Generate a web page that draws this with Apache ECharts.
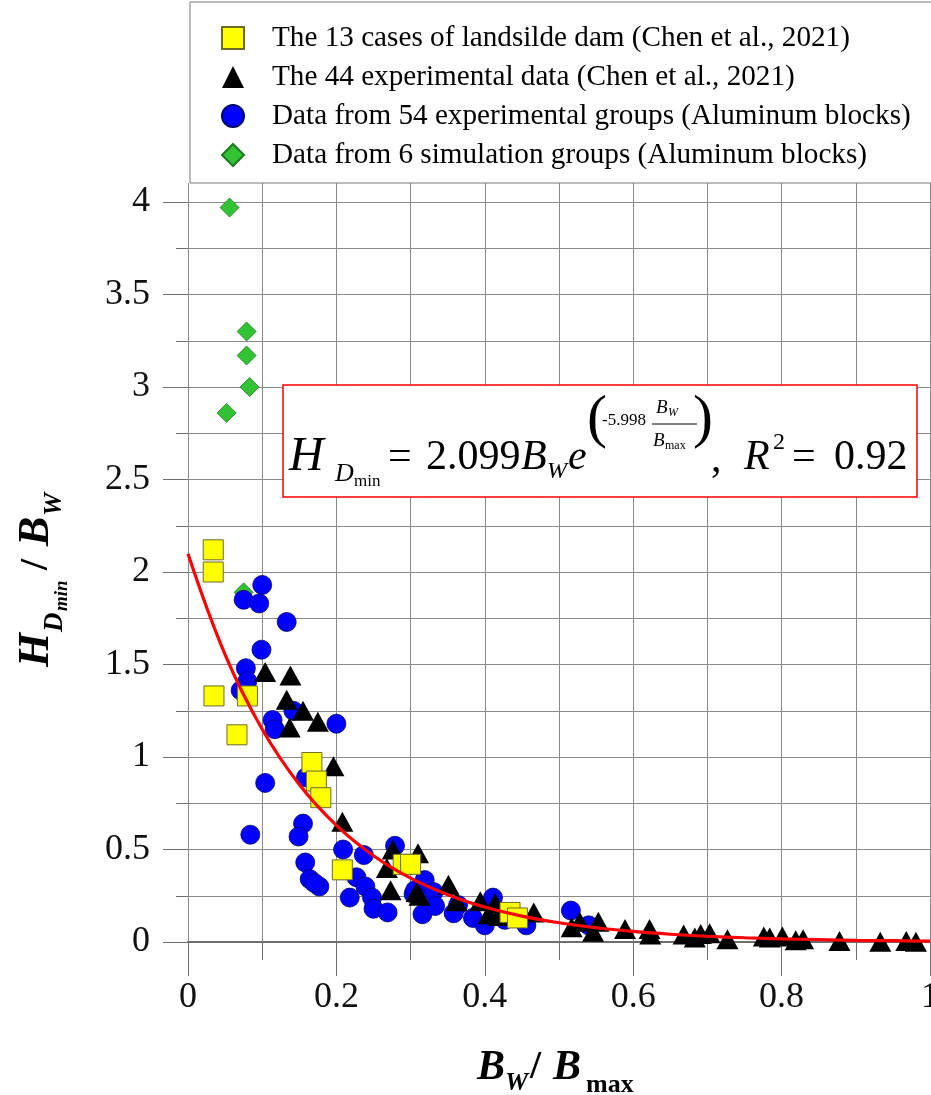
<!DOCTYPE html>
<html>
<head>
<meta charset="utf-8">
<script src="https://cdn.jsdelivr.net/npm/echarts@6/dist/echarts.min.js"></script>
<style>html,body{margin:0;padding:0;background:#fff;}#c{width:931px;height:1095px;}</style>
</head>
<body>
<div id="c"></div>
<script>
// ---- data ----
const legendNames = [
  'The 13 cases of landsilde dam (Chen et al., 2021)',
  'The 44 experimental data (Chen et al., 2021)',
  'Data from 54 experimental groups (Aluminum blocks)',
  'Data from 6 simulation groups (Aluminum blocks)'
];
const landslideDams = [
  [0.034,2.12],[0.034,2.00],[0.035,1.33],[0.080,1.33],[0.066,1.12],[0.167,0.97],[0.173,0.87],
  [0.179,0.78],[0.208,0.39],[0.290,0.42],[0.300,0.42],[0.434,0.16],[0.444,0.13]
];
const chenExperiments = [
  [0.104,1.46],[0.138,1.44],[0.133,1.31],[0.155,1.25],[0.175,1.19],[0.137,1.16],[0.196,0.95],
  [0.208,0.65],[0.276,0.50],[0.310,0.48],[0.268,0.40],[0.273,0.28],[0.308,0.27],
  [0.312,0.25],[0.351,0.31],[0.362,0.22],[0.394,0.22],[0.414,0.21],[0.405,0.15],[0.418,0.14],[0.466,0.16],
  [0.517,0.08],[0.528,0.11],[0.553,0.11],[0.546,0.055],[0.589,0.07],[0.622,0.07],[0.623,0.04],
  [0.668,0.04],[0.683,0.025],[0.691,0.043],[0.703,0.047],[0.727,0.015],[0.776,0.03],[0.784,0.025],
  [0.801,0.03],[0.819,0.01],[0.829,0.015],[0.878,0.005],[0.933,0.002],[0.968,0.005],[0.981,0.002]
];
const aluminumExperiments = [
  [0.100,1.93],[0.075,1.85],[0.096,1.83],[0.133,1.73],[0.099,1.58],[0.078,1.48],[0.080,1.41],
  [0.071,1.36],[0.114,1.20],[0.117,1.15],[0.142,1.25],[0.200,1.18],
  [0.159,0.89],[0.104,0.86],[0.155,0.64],[0.149,0.57],[0.084,0.58],[0.209,0.50],[0.237,0.47],
  [0.279,0.52],[0.158,0.43],[0.164,0.34],[0.177,0.30],[0.170,0.32],[0.227,0.35],[0.239,0.30],
  [0.218,0.24],[0.248,0.24],[0.250,0.18],[0.269,0.16],[0.304,0.26],[0.306,0.28],[0.316,0.15],
  [0.319,0.335],[0.331,0.27],[0.333,0.195],[0.364,0.20],[0.358,0.155],[0.384,0.13],[0.400,0.09],
  [0.411,0.24],[0.427,0.12],[0.456,0.09],[0.516,0.17],[0.540,0.09]
];
const aluminumSimulations = [
  [0.056,3.97],[0.079,3.30],[0.079,3.17],[0.083,3.00],[0.052,2.86],[0.075,1.89]
];
// fitted curve as drawn
const fitCurve = [
  [0,2.099],[0.05,1.554],[0.10,1.150],[0.15,0.851],[0.20,0.630],[0.25,0.466],[0.30,0.345],
  [0.35,0.256],[0.40,0.189],[0.45,0.140],[0.50,0.104],[0.55,0.077],[0.60,0.057],[0.65,0.042],
  [0.70,0.031],[0.75,0.023],[0.80,0.017],[0.85,0.013],[0.90,0.009],[0.95,0.007],[1.00,0.005]
];
const xTicks = [0, 0.2, 0.4, 0.6, 0.8, 1];
const yTicks = [0, 0.5, 1, 1.5, 2, 2.5, 3, 3.5, 4];

const SERIF = '"Liberation Serif","Times New Roman",serif';
const GRID_C = '#8a8a8a';

function txt(x, y, text, size, opts) {
  opts = opts || {};
  return {
    type: 'text', x: x, y: y, z: 101,
    style: {
      text: text, fontSize: size, fontFamily: SERIF,
      fontStyle: opts.italic ? 'italic' : 'normal',
      fontWeight: opts.bold ? 'bold' : 'normal',
      fill: '#000', align: opts.align || 'left', verticalAlign: 'middle'
    }
  };
}

const chart = echarts.init(document.getElementById('c'), null, {renderer: 'canvas'});
const option = {
  backgroundColor: '#fff',
  animation: false,
  grid: [
    {left: 188, right: 1, top: 202, bottom: 153, outerBoundsMode: 'none', containLabel: false},
    {left: 188, right: 1, top: 183, height: 19, outerBoundsMode: 'none', containLabel: false}
  ],
  xAxis: [
    {
      type: 'value', gridIndex: 0, min: 0, max: 1, interval: 0.2,
      axisLine: {show: true, lineStyle: {color: '#6e6e6e', width: 2}},
      axisTick: {show: true, inside: false, length: 34, lineStyle: {color: '#6e6e6e', width: 1}},
      minorTick: {show: true, splitNumber: 2, length: 18, lineStyle: {color: '#6e6e6e', width: 1}},
      splitLine: {show: true, lineStyle: {color: GRID_C, width: 1}},
      minorSplitLine: {show: true, lineStyle: {color: GRID_C, width: 1}},
      axisLabel: {
        show: true, margin: 38, fontSize: 36, fontFamily: SERIF, color: '#111',
        showMinLabel: true, showMaxLabel: true, hideOverlap: false,
        formatter: v => (xTicks.some(t => Math.abs(t - v) < 1e-9) ? String(+v.toFixed(1)) : '')
      }
    },
    {
      type: 'value', gridIndex: 1, min: 0, max: 1, interval: 0.1,
      axisLine: {show: false}, axisTick: {show: false}, axisLabel: {show: false},
      splitLine: {show: true, lineStyle: {color: GRID_C, width: 1}}
    }
  ],
  yAxis: [
    {
      type: 'value', gridIndex: 0, min: 0, max: 4, interval: 0.5,
      axisLine: {show: true, lineStyle: {color: GRID_C, width: 1}},
      axisTick: {show: true, inside: false, length: 25, lineStyle: {color: '#6e6e6e', width: 1}},
      minorTick: {show: true, splitNumber: 2, length: 12, lineStyle: {color: '#6e6e6e', width: 1}},
      splitLine: {show: true, lineStyle: {color: GRID_C, width: 1}},
      minorSplitLine: {show: true, lineStyle: {color: GRID_C, width: 1}},
      axisLabel: {
        show: true, margin: 38, fontSize: 36, fontFamily: SERIF, color: '#111',
        showMinLabel: true, showMaxLabel: true, hideOverlap: false,
        formatter: v => (yTicks.some(t => Math.abs(t - v) < 1e-9) ? String(v) : '')
      }
    },
    {type: 'value', gridIndex: 1, min: 0, max: 1, show: false}
  ],
  legend: {
    show: true, orient: 'vertical', left: 190, top: 2,
    padding: [21, 30, 13, 31],
    backgroundColor: '#fff', borderColor: '#7a7a7a', borderWidth: 1,
    itemWidth: 22, itemHeight: 22, itemGap: 9,
    selectedMode: false,
    data: legendNames,
    textStyle: {fontSize: 29.2, fontFamily: SERIF, color: '#000', lineHeight: 30, padding: [0, 0, 0, 23]}
  },
  series: [
    {
      name: legendNames[3], type: 'scatter', xAxisIndex: 0, yAxisIndex: 0,
      symbol: 'diamond', symbolSize: 19, data: aluminumSimulations,
      itemStyle: {color: '#33c233', borderColor: '#1f7a1f', borderWidth: 0.8, opacity: 1}
    },
    {
      name: legendNames[2], type: 'scatter', xAxisIndex: 0, yAxisIndex: 0,
      symbol: 'circle', symbolSize: 19, data: aluminumExperiments,
      itemStyle: {color: '#0000ff', borderColor: '#00006e', borderWidth: 0.8, opacity: 1}
    },
    {
      name: legendNames[1], type: 'scatter', xAxisIndex: 0, yAxisIndex: 0,
      symbol: 'triangle', symbolSize: [22, 20], data: chenExperiments,
      itemStyle: {color: '#000', borderWidth: 0, opacity: 1}
    },
    {
      name: legendNames[0], type: 'scatter', xAxisIndex: 0, yAxisIndex: 0,
      symbol: 'rect', symbolSize: 20, data: landslideDams,
      itemStyle: {color: '#ffff00', borderColor: '#6b6b2a', borderWidth: 1, opacity: 1}
    },
    {
      name: 'fit', type: 'line', xAxisIndex: 0, yAxisIndex: 0,
      data: fitCurve, smooth: 0.4, showSymbol: false, symbol: 'none',
      lineStyle: {color: '#ff0000', width: 3.2}, z: 3, silent: true
    }
  ],
  graphic: [
    // equation box
    {type: 'rect', z: 100, shape: {x: 283, y: 385, width: 634, height: 112},
     style: {fill: '#fff', stroke: '#ff0000', lineWidth: 1.5}},
    txt(289, 457, 'H', 48, {italic: true}),
    txt(335, 474, 'D', 26, {italic: true}),
    txt(354, 482, 'min', 17),
    txt(388, 458, '=', 42),
    txt(426, 458, '2.099', 42),
    txt(521, 458, 'B', 42, {italic: true}),
    txt(547, 472, 'W', 24, {italic: true}),
    txt(568, 458, 'e', 42, {italic: true}),
    txt(587, 420, '(', 60),
    txt(602, 421, '-5.998', 17),
    txt(656, 408, 'B', 19, {italic: true}),
    txt(668, 413, 'W', 12, {italic: true}),
    {type: 'line', z: 101, shape: {x1: 652, y1: 424, x2: 697, y2: 424}, style: {stroke: '#000', lineWidth: 1}},
    txt(653, 441, 'B', 19, {italic: true}),
    txt(665, 446, 'max', 12),
    txt(693, 420, ')', 60),
    txt(711, 460, ',', 42),
    txt(744, 458, 'R', 42, {italic: true}),
    txt(773, 443, '2', 24),
    txt(792, 458, '=', 42),
    txt(834, 458, '0.92', 42),
    // y-axis title (rotated)
    {
      type: 'group', x: 0, y: 667, rotation: Math.PI / 2, z: 101,
      children: [
        txt(0, 37, 'H', 44, {italic: true, bold: true}),
        txt(35, 55, 'D', 27, {italic: true, bold: true}),
        txt(56, 62, 'min', 19, {italic: true, bold: true}),
        txt(97, 37, '/', 40, {bold: true}),
        txt(121, 37, 'B', 44, {italic: true, bold: true}),
        txt(151, 54, 'W', 26, {italic: true, bold: true})
      ]
    },
    // x-axis title
    txt(477, 1068, 'B', 42, {italic: true, bold: true}),
    txt(505, 1083, 'W', 26, {italic: true, bold: true}),
    txt(530, 1068, '/', 40, {bold: true}),
    txt(553, 1068, 'B', 42, {italic: true, bold: true}),
    txt(586, 1085, 'max', 26, {bold: true})
  ]
};
chart.setOption(option);
</script>
</body>
</html>
